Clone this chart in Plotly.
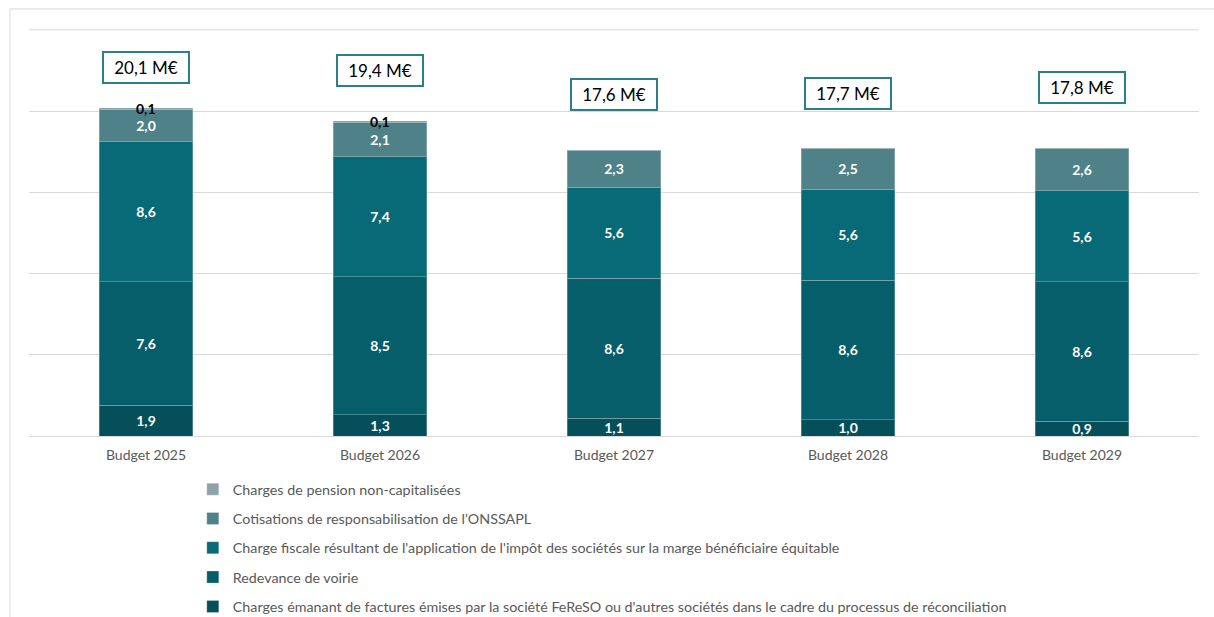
import plotly.graph_objects as go

# Budget years on the x axis
categories = ["Budget 2025", "Budget 2026", "Budget 2027", "Budget 2028", "Budget 2029"]

# Cost components (M€), stacked bottom to top
fereso = [1.9, 1.3, 1.1, 1.0, 0.9]
redevance = [7.6, 8.5, 8.6, 8.6, 8.6]
charge_fiscale = [8.6, 7.4, 5.6, 5.6, 5.6]
onssapl = [2.0, 2.1, 2.3, 2.5, 2.6]
pension = [0.1, 0.1, 0.0, 0.0, 0.0]

# Announced totals (M€) and the height at which each total box sits
totals = [20.1, 19.4, 17.6, 17.7, 17.8]
total_box_y = [22.7, 22.5, 21.0, 21.05, 21.45]

Y_MAX = 25

series = [
    ("Charges émanant de factures émises par la société FeReSO ou d'autres sociétés dans le cadre du processus de réconciliation", fereso, "#044f59"),
    ("Redevance de voirie", redevance, "#065e6a"),
    ("Charge fiscale résultant de l'application de l'impôt des sociétés sur la marge bénéficiaire équitable", charge_fiscale, "#086a76"),
    ("Cotisations de responsabilisation de l’ONSSAPL", onssapl, "#4f8189"),
    ("Charges de pension non-capitalisées", pension, "#8ea3a9"),
]

FONT = "Lato, 'Open Sans', sans-serif"
GRID = "#d9d9d9"
TEXT_GREY = "#595959"

fig = go.Figure()
n = len(series)
for i, (name, values, color) in enumerate(series):
    is_top = i == n - 1
    fig.add_trace(go.Bar(
        x=categories,
        y=values,
        name=name,
        legendgroup=name,
        legendrank=n - i,
        marker=dict(color=color, line=dict(color="rgba(255,255,255,0.25)", width=1)),
        width=0.4,
        texttemplate="%{y:.1f}",
        textposition="none" if is_top else "inside",
        insidetextanchor="middle",
        textangle=0,
        constraintext="none",
        textfont=dict(family=FONT, size=14, color="white", weight="bold"),
        hoverinfo="skip",
    ))

annotations = []
# Small pension amounts, written in black at the top of the stack
for k, cat in enumerate(categories):
    if pension[k] > 0:
        top = fereso[k] + redevance[k] + charge_fiscale[k] + onssapl[k] + pension[k]
        annotations.append(dict(
            x=cat, y=top, xref="x", yref="y", text=f"{pension[k]:.1f}".replace(".", ","),
            showarrow=False, yanchor="middle", yshift=-1,
            font=dict(family=FONT, size=14, color="black", weight="bold"),
        ))

# Framed totals above each bar
for k, cat in enumerate(categories):
    annotations.append(dict(
        x=cat, y=total_box_y[k], xref="x", yref="y",
        text=f"{totals[k]:.1f}".replace(".", ",") + " M€",
        showarrow=False, yanchor="middle",
        font=dict(family=FONT, size=17, color="black"),
        bgcolor="white", bordercolor="#2a8088", borderwidth=2, borderpad=2,
        width=80, height=25,
    ))

# Outer frame lines (left and top edges) and the top gridline
x0 = (10 - 29) / 1170
y_top = (436 - 10) / 406
y_bot = (436 - 617) / 406
shapes = [
    dict(type="line", xref="paper", yref="paper", x0=x0, x1=x0, y0=y_bot, y1=y_top,
         line=dict(color=GRID, width=1)),
    dict(type="line", xref="paper", yref="paper", x0=x0, x1=(1214 - 29) / 1170, y0=y_top, y1=y_top,
         line=dict(color=GRID, width=1)),
    dict(type="line", xref="paper", yref="y", x0=0, x1=1, y0=Y_MAX, y1=Y_MAX,
         line=dict(color=GRID, width=1), layer="below"),
]

fig.update_layout(
    width=1214,
    height=617,
    margin=dict(l=29, r=15, t=29, b=181, autoexpand=False),
    barmode="stack",
    separators=", ",
    paper_bgcolor="white",
    plot_bgcolor="white",
    font=dict(family=FONT, size=14, color=TEXT_GREY),
    xaxis=dict(showline=False, ticks="", ticklabelstandoff=9,
               tickfont=dict(family=FONT, size=14, color=TEXT_GREY)),
    yaxis=dict(range=[0, Y_MAX + 0.05], dtick=5, showticklabels=False, showgrid=True,
               gridcolor=GRID, gridwidth=1, zeroline=True, zerolinecolor=GRID, zerolinewidth=1),
    legend=dict(
        orientation="v", traceorder="grouped", tracegroupgap=7.7,
        x=0.14, xanchor="left", y=-0.092, yanchor="top",
        font=dict(family=FONT, size=14.3, color=TEXT_GREY),
        bgcolor="rgba(0,0,0,0)",
    ),
    annotations=annotations,
    shapes=shapes,
)

fig.write_html("out.html")
